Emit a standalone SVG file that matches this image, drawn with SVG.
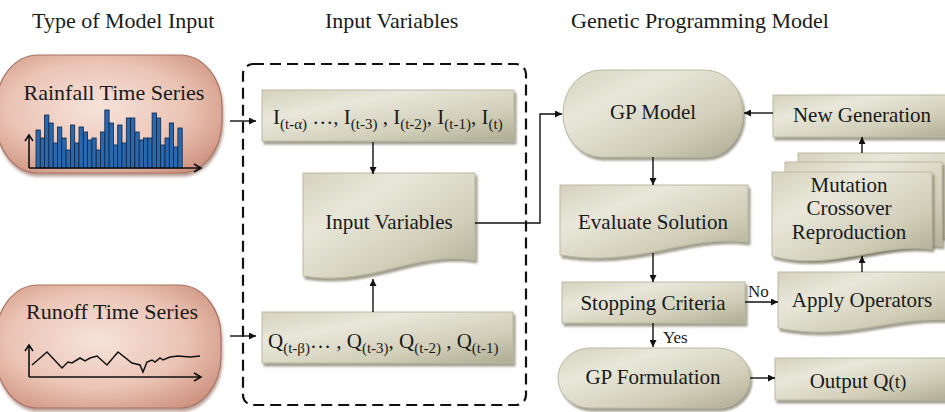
<svg xmlns="http://www.w3.org/2000/svg" width="945" height="412" viewBox="0 0 945 412">
<defs>
<style>
text{font-family:"Liberation Serif","Times New Roman",serif;fill:#1a1a1a}
.title{font-size:22px}
.t{font-size:21px}
.c{text-anchor:middle}
.sub{font-size:15px}
.lbl{font-size:17px}
.box{fill:url(#bx);stroke:#bcb9a3;stroke-width:1;filter:url(#sh)}
.pill{fill:url(#pk);stroke:#a87565;stroke-width:1.2;filter:url(#sh2)}
.arr{fill:none;stroke:#111;stroke-width:1.4;marker-end:url(#ah)}
.bar{fill:#2a68ad;stroke:#0c2548;stroke-width:0.8}
.ax{fill:none;stroke:#111;stroke-width:1.6}
</style>
<linearGradient id="bx" x1="0" y1="0" x2="1" y2="1">
<stop offset="0" stop-color="#d4d2bd"/>
<stop offset="0.3" stop-color="#e8e7da"/>
<stop offset="0.7" stop-color="#d0cdb7"/>
<stop offset="1" stop-color="#aeab93"/>
</linearGradient>
<radialGradient id="pk" cx="0.45" cy="0.45" r="0.65">
<stop offset="0" stop-color="#f6e3db"/>
<stop offset="0.6" stop-color="#ebc4b5"/>
<stop offset="1" stop-color="#d09582"/>
</radialGradient>
<filter id="sh" x="-10%" y="-10%" width="130%" height="140%">
<feDropShadow dx="2" dy="3" stdDeviation="1.2" flood-color="#77745f" flood-opacity="0.7"/>
</filter>
<filter id="sh2" x="-10%" y="-10%" width="130%" height="130%">
<feDropShadow dx="1" dy="3" stdDeviation="1.5" flood-color="#8a5e50" flood-opacity="0.6"/>
</filter>
<marker id="ah" viewBox="0 0 10 10" refX="10" refY="5" markerWidth="7" markerHeight="7" orient="auto" markerUnits="userSpaceOnUse">
<path d="M0,0 L10,5 L0,10 Z" fill="#111"/>
</marker>
</defs>

<g id="titles">
<text class="title" x="32" y="28">Type of Model Input</text>
<text class="title" x="325" y="28">Input Variables</text>
<text class="title" x="571" y="28">Genetic Programming Model</text>
</g>

<g id="rainfall">
<rect class="pill" x="-4" y="55" width="226" height="118" rx="42" ry="52"/>
<text class="t c" x="114" y="100" style="font-size:22px">Rainfall Time Series</text>
<g>
<rect class="bar" x="36" y="130" width="4.3" height="38"/>
<rect class="bar" x="40.3" y="138" width="4.3" height="30"/>
<rect class="bar" x="44.6" y="115" width="4.3" height="53"/>
<rect class="bar" x="48.9" y="123" width="4.3" height="45"/>
<rect class="bar" x="53.2" y="143" width="4.3" height="25"/>
<rect class="bar" x="57.5" y="127" width="4.3" height="41"/>
<rect class="bar" x="61.8" y="138" width="4.3" height="30"/>
<rect class="bar" x="66.1" y="150" width="4.3" height="18"/>
<rect class="bar" x="70.4" y="125" width="4.3" height="43"/>
<rect class="bar" x="74.7" y="143" width="4.3" height="25"/>
<rect class="bar" x="79" y="127" width="4.3" height="41"/>
<rect class="bar" x="83.3" y="132" width="4.3" height="36"/>
<rect class="bar" x="87.6" y="140" width="4.3" height="28"/>
<rect class="bar" x="91.9" y="138" width="4.3" height="30"/>
<rect class="bar" x="96.2" y="150" width="4.3" height="18"/>
<rect class="bar" x="100.5" y="132" width="4.3" height="36"/>
<rect class="bar" x="104.8" y="110" width="4.3" height="58"/>
<rect class="bar" x="109.1" y="123" width="4.3" height="45"/>
<rect class="bar" x="113.4" y="145" width="4.3" height="23"/>
<rect class="bar" x="117.7" y="125" width="4.3" height="43"/>
<rect class="bar" x="122" y="143" width="4.3" height="25"/>
<rect class="bar" x="126.3" y="118" width="4.3" height="50"/>
<rect class="bar" x="130.6" y="118" width="4.3" height="50"/>
<rect class="bar" x="134.9" y="132" width="4.3" height="36"/>
<rect class="bar" x="139.2" y="140" width="4.3" height="28"/>
<rect class="bar" x="143.5" y="138" width="4.3" height="30"/>
<rect class="bar" x="147.8" y="138" width="4.3" height="30"/>
<rect class="bar" x="152.1" y="113" width="4.3" height="55"/>
<rect class="bar" x="156.4" y="118" width="4.3" height="50"/>
<rect class="bar" x="160.7" y="145" width="4.3" height="23"/>
<rect class="bar" x="165" y="138" width="4.3" height="30"/>
<rect class="bar" x="169.3" y="123" width="4.3" height="45"/>
<rect class="bar" x="173.6" y="147" width="4.3" height="21"/>
<rect class="bar" x="177.9" y="128" width="4.3" height="40"/>
</g>
<path class="ax" d="M29,168 V136 M25,141 L29,135 L33,141 M29,168 H200 M194,164 L201,168 L194,172"/>
</g>

<g id="runoff">
<rect class="pill" x="-4" y="285" width="225" height="123" rx="42" ry="52"/>
<text class="t c" x="112" y="319" style="font-size:22px">Runoff Time Series</text>
<path class="ax" d="M29,377 V346 M25,351 L29,345 L33,351 M29,377 H200 M194,373 L201,377 L194,381"/>
<polyline fill="none" stroke="#111" stroke-width="1.5" points="32,365 47,352 62,368 68,362 72,363 80,358 85,361 90,358 97,356 107,365 118,352 132,363 140,365 143,372 147,362 152,360 155,362 160,358 163,360 170,357 178,356 190,357 200,356"/>
</g>

<g id="input-group">
<rect x="243" y="64" width="283" height="341" rx="10" fill="none" stroke="#111" stroke-width="2.2" stroke-dasharray="11 6"/>
</g>

<g id="i-box">
<rect class="box" x="262" y="90" width="252" height="51"/>
<text class="t" x="273" y="124">I<tspan class="sub" dy="5">(t-α)</tspan><tspan dy="-5"> …, I</tspan><tspan class="sub" dy="5">(t-3)</tspan><tspan dy="-5"> , I</tspan><tspan class="sub" dy="5">(t-2)</tspan><tspan dy="-5">, I</tspan><tspan class="sub" dy="5">(t-1)</tspan><tspan dy="-5">, I</tspan><tspan class="sub" dy="5">(t)</tspan></text>
</g>

<g id="input-variables">
<path class="box" d="M303,173 H475 V260 C415,250 372,287 303,276 Z"/>
<text class="t c" x="389" y="229">Input Variables</text>
</g>

<g id="q-box">
<rect class="box" x="262" y="312" width="251" height="51"/>
<text class="t" x="268" y="348">Q<tspan class="sub" dy="5">(t-β)</tspan><tspan dy="-5">… , Q</tspan><tspan class="sub" dy="5">(t-3)</tspan><tspan dy="-5">, Q</tspan><tspan class="sub" dy="5">(t-2)</tspan><tspan dy="-5"> , Q</tspan><tspan class="sub" dy="5">(t-1)</tspan></text>
</g>

<g id="gp-model">
<rect class="box" x="563" y="70" width="180" height="87" rx="38" ry="43"/>
<text class="t c" x="653" y="119">GP Model</text>
</g>

<g id="new-generation">
<rect class="box" x="773" y="95" width="180" height="42"/>
<text class="t c" x="862" y="122">New Generation</text>
</g>

<g id="evaluate-solution">
<path class="box" d="M560,185 H748 V242 C685,234 640,268 560,255 Z"/>
<text class="t c" x="653" y="229">Evaluate Solution</text>
</g>

<g id="operators-stack">
<path class="box" d="M798,153 H955 V238 C900,232 860,258 798,247 Z"/>
<path class="box" d="M785,162 H942 V246 C885,240 845,266 785,256 Z"/>
<path class="box" d="M772,172 H932 V249 C880,242 830,272 772,256 Z"/>
<text class="t c" x="849" y="192">Mutation</text>
<text class="t c" x="849" y="215">Crossover</text>
<text class="t c" x="849" y="239">Reproduction</text>
</g>

<g id="stopping-criteria">
<rect class="box" x="562" y="282" width="183" height="41"/>
<text class="t c" x="653" y="310">Stopping Criteria</text>
</g>

<g id="apply-operators">
<path class="box" d="M778,272 H955 V320 C890,315 850,342 778,328 Z"/>
<text class="t c" x="862" y="307">Apply Operators</text>
</g>

<g id="gp-formulation">
<rect class="box" x="558" y="348" width="192" height="60" rx="32" ry="30"/>
<text class="t c" x="653" y="384">GP Formulation</text>
</g>

<g id="output">
<rect class="box" x="775" y="358" width="175" height="42"/>
<text class="t c" x="858" y="388">Output Q<tspan style="font-size:19px">(t)</tspan></text>
</g>

<g id="connectors">
<line class="arr" x1="230" y1="121" x2="256" y2="121"/>
<line class="arr" x1="230" y1="336" x2="256" y2="336"/>
<line class="arr" x1="373" y1="142" x2="373" y2="174"/>
<line class="arr" x1="373" y1="312" x2="373" y2="279"/>
<path class="arr" d="M475,223 H540 V114 H562"/>
<line class="arr" x1="653" y1="157" x2="653" y2="185"/>
<line class="arr" x1="773" y1="113" x2="744" y2="113"/>
<line class="arr" x1="653" y1="253" x2="653" y2="282"/>
<line class="arr" x1="745" y1="302" x2="778" y2="302"/>
<line class="arr" x1="653" y1="323" x2="653" y2="347"/>
<line class="arr" x1="750" y1="378" x2="775" y2="378"/>
<line class="arr" x1="862" y1="272" x2="862" y2="256"/>
<line class="arr" x1="862" y1="153" x2="862" y2="137"/>
<text class="lbl" x="748" y="297">No</text>
<text class="lbl" x="663" y="343">Yes</text>
</g>
</svg>
